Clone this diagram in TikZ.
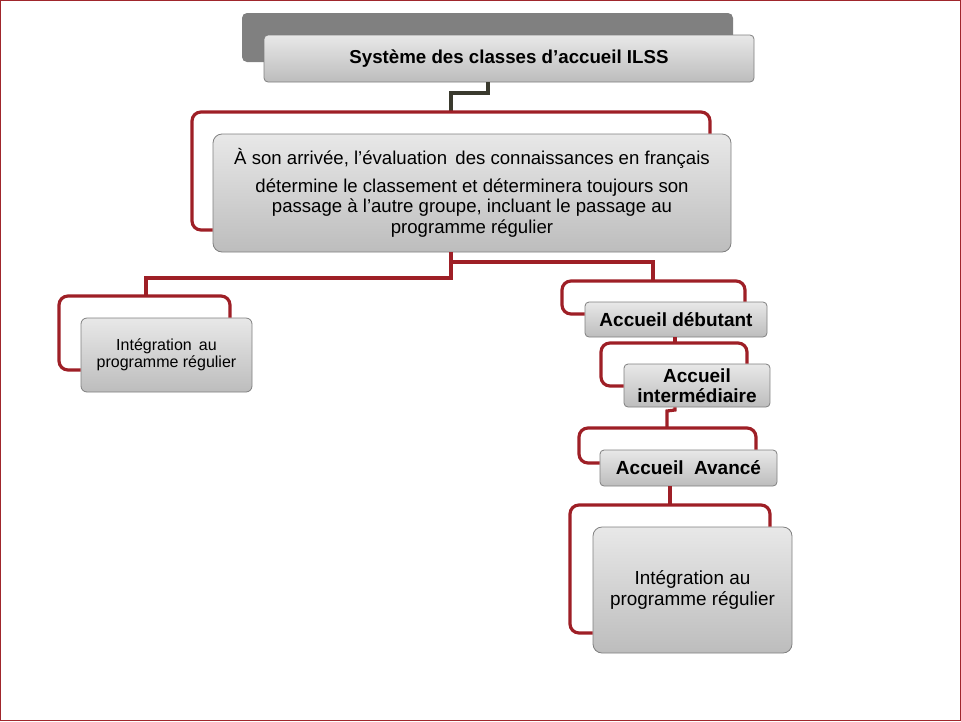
\documentclass[tikz,border=0pt]{standalone}
\usepackage{fontspec}
\setmainfont{Liberation Sans}
\usepackage{tikz}
\usetikzlibrary{shapes,arrows,positioning}

\definecolor{framered}{HTML}{A0262C}
\definecolor{linkred}{HTML}{9E1F26}
\definecolor{linkdark}{HTML}{3A3A2E}
\definecolor{boxedge}{HTML}{7F7F7F}

\tikzset{
  box/.style={draw=boxedge, line width=0.8pt, rounded corners=6pt,
    top color=black!9, bottom color=black!26, align=center,
    inner sep=2pt, text=black},
  bigbox/.style={box, rounded corners=9pt},
  link/.style={draw=linkred, line width=3.2pt, rounded corners=9pt},
  darklink/.style={draw=linkdark, line width=3.2pt}
}

\begin{document}
\begin{tikzpicture}[x=1pt,y=-1pt]
\useasboundingbox (0,0) rectangle (961,721);
\draw[framered, line width=1pt] (0.5,0.5) rectangle (960.5,720.5);

% title with its shadow plate
\fill[black!50, rounded corners=5pt] (242,13) rectangle (733,62);
\node[box, rounded corners=4pt, minimum width=490pt, minimum height=47pt,
  font=\fontsize{18.7}{21}\selectfont\bfseries] (title) at (509,58.5)
  {Système des classes d’accueil ILSS};

% evaluation box
\node[bigbox, minimum width=518pt, minimum height=118pt,
  font=\fontsize{18.6}{20.5}\selectfont] (main) at (472,193)
  {À son arrivée, l’évaluation\, des connaissances en français\\[7pt]
   détermine le classement et déterminera toujours son\\
   passage à l’autre groupe, incluant le passage au\\
   programme régulier};

% left branch
\node[box, minimum width=171pt, minimum height=74pt,
  font=\fontsize{16}{17.5}\selectfont] (integ1) at (166.5,355)
  {Intégration\, au\\ programme régulier};

% right branch
\node[box, rounded corners=4pt, minimum width=182pt, minimum height=35pt,
  font=\fontsize{19}{21}\selectfont\bfseries] (debut) at (676,319.5)
  {Accueil débutant};
\node[box, rounded corners=4pt, minimum width=146pt, minimum height=43pt,
  font=\fontsize{19}{20.5}\selectfont\bfseries] (inter) at (697,385.5)
  {Accueil\\ intermédiaire};
\node[box, rounded corners=4pt, minimum width=177pt, minimum height=36pt,
  font=\fontsize{19}{21}\selectfont\bfseries] (avance) at (688.5,468)
  {Accueil\ \ Avancé};
\node[bigbox, minimum width=199pt, minimum height=126pt,
  font=\fontsize{18.9}{20.5}\selectfont] (integ2) at (692.5,590)
  {Intégration au\\ programme régulier};

% connectors
\draw[darklink] (title.south -| 488,0) |- (451,93) -- (451,112);
\draw[link] (main.north -| 710,0) |- (192,112) |- (main.west |- 0,230);

\draw[link, rounded corners=0pt] (main.south -| 451,0) |- (146,278) -- (146,296);
\draw[link, rounded corners=0pt] (451,262) -| (653,281);
\draw[link] (integ1.north -| 230,0) |- (59,296) |- (integ1.west |- 0,370);
\draw[link] (debut.north -| 745,0) |- (562,281) |- (debut.west |- 0,314);

\draw[link, rounded corners=0pt] (debut.south -| 675,0) -- (675,343);
\draw[link] (inter.north -| 747,0) |- (601,343) |- (inter.west |- 0,386);

\draw[link, rounded corners=0pt] (inter.south -| 675,0) -- (675,410) -- (667,411) -- (667,428);
\draw[link] (avance.north -| 756,0) |- (579,428) |- (avance.west |- 0,463);

\draw[link, rounded corners=0pt] (avance.south -| 670,0) -- (670,505);
\draw[link] (integ2.north -| 770,0) |- (570,505) |- (integ2.west |- 0,633);
\end{tikzpicture}
\end{document}
